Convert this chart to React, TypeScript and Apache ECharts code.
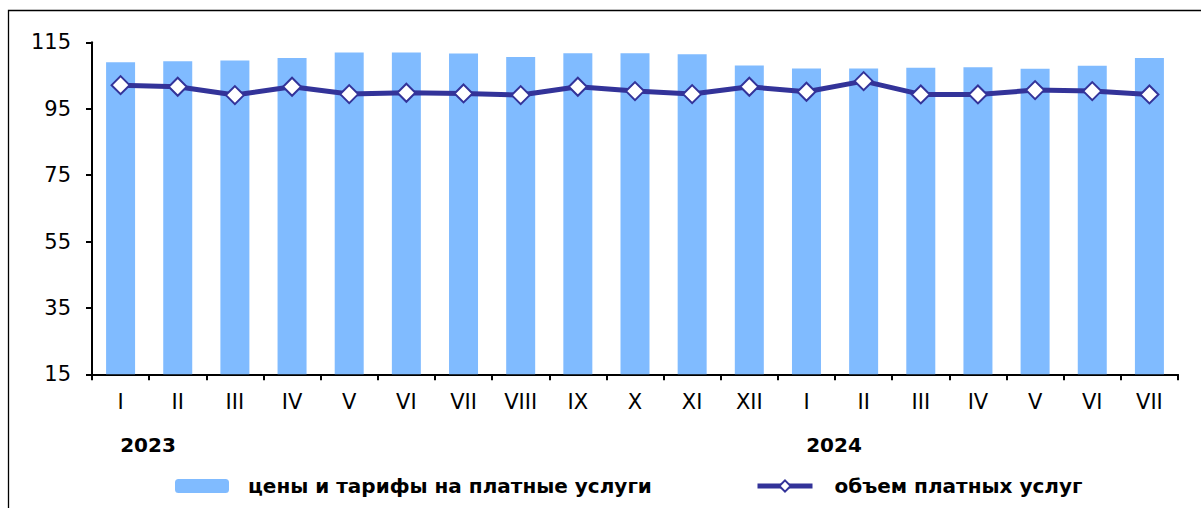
import React, { useEffect, useRef } from "react";
import * as echarts from "echarts";

const months = ["I", "II", "III", "IV", "V", "VI", "VII", "VIII", "IX", "X", "XI", "XII", "I", "II", "III", "IV", "V", "VI", "VII"];
const priceIndex = [109.0, 109.3, 109.5, 110.3, 111.9, 111.9, 111.6, 110.6, 111.7, 111.7, 111.4, 108.0, 107.1, 107.1, 107.3, 107.5, 107.0, 107.9, 110.3];
const volumeIndex = [102.1, 101.6, 99.1, 101.6, 99.4, 99.8, 99.6, 99.1, 101.6, 100.3, 99.4, 101.6, 100.1, 103.3, 99.3, 99.3, 100.6, 100.3, 99.3];
const yTicks = [15, 35, 55, 75, 95, 115];
const years = ["2023", "2024"];
const seriesNames = ["цены и тарифы на платные услуги", "объем платных услуг"];

const FONT = "'DejaVu Sans', 'Liberation Sans', Arial, sans-serif";
const BAR_COLOR = "#80BBFF";
const LINE_COLOR = "#333399";

export default function App() {
  const ref = useRef<HTMLDivElement>(null);
  useEffect(() => {
    document.body.style.margin = "0";
    const chart = echarts.init(ref.current!, null, { renderer: "svg" });
    chart.setOption({
      animation: false,
      backgroundColor: "#fff",
      grid: { left: 92, top: 42.3, right: 23, bottom: 133.7, containLabel: false },
      xAxis: {
        type: "category",
        data: months,
        boundaryGap: true,
        axisLine: { show: true, lineStyle: { color: "#000", width: 2 } },
        axisTick: { show: true, interval: 0, length: 6, lineStyle: { color: "#000", width: 2 } },
        axisLabel: { interval: 0, margin: 17, fontSize: 21, color: "#000", fontFamily: FONT },
        splitLine: { show: false },
      },
      yAxis: {
        type: "value",
        min: 15,
        max: 115,
        axisLine: { show: true, lineStyle: { color: "#000", width: 2 } },
        axisTick: { show: true, length: 6, customValues: yTicks, lineStyle: { color: "#000", width: 2 } },
        axisLabel: { customValues: yTicks, margin: 21, fontSize: 21, color: "#000", fontFamily: FONT },
        splitLine: { show: false },
      },
      legend: [
        {
          left: 170,
          top: 471,
          itemWidth: 54,
          itemHeight: 14,
          data: [seriesNames[0]],
          textStyle: { fontSize: 20, fontWeight: "bold", color: "#000", fontFamily: FONT, padding: [0, 0, 0, 14] },
        },
        {
          left: 750,
          top: 471,
          itemWidth: 55,
          itemHeight: 14,
          data: [seriesNames[1]],
          lineStyle: { width: 5, color: LINE_COLOR },
          itemStyle: { color: "#fff", borderColor: LINE_COLOR, borderWidth: 2 },
          textStyle: { fontSize: 20, fontWeight: "bold", color: "#000", fontFamily: FONT, padding: [0, 0, 0, 17] },
        },
      ],
      graphic: [
        {
          type: "rect",
          shape: { x: 8.5, y: 10.5, width: 1400, height: 700 },
          style: { fill: "none", stroke: "#000", lineWidth: 1.3 },
          silent: true,
        },
        {
          type: "text",
          x: 148,
          y: 445,
          style: { text: years[0], fontSize: 20, fontWeight: "bold", fill: "#000", fontFamily: FONT, align: "center", verticalAlign: "middle" },
        },
        {
          type: "text",
          x: 834,
          y: 445,
          style: { text: years[1], fontSize: 20, fontWeight: "bold", fill: "#000", fontFamily: FONT, align: "center", verticalAlign: "middle" },
        },
      ],
      series: [
        {
          name: seriesNames[0],
          type: "bar",
          data: priceIndex,
          barWidth: 29,
          itemStyle: { color: BAR_COLOR },
        },
        {
          name: seriesNames[1],
          type: "line",
          data: volumeIndex,
          symbol: "diamond",
          symbolSize: 18,
          lineStyle: { color: LINE_COLOR, width: 5 },
          itemStyle: { color: "#fff", borderColor: LINE_COLOR, borderWidth: 2 },
        },
      ],
    });
    return () => chart.dispose();
  }, []);
  return <div ref={ref} style={{ position: "fixed", left: 0, top: 0, width: 1201, height: 508 }} />;
}
